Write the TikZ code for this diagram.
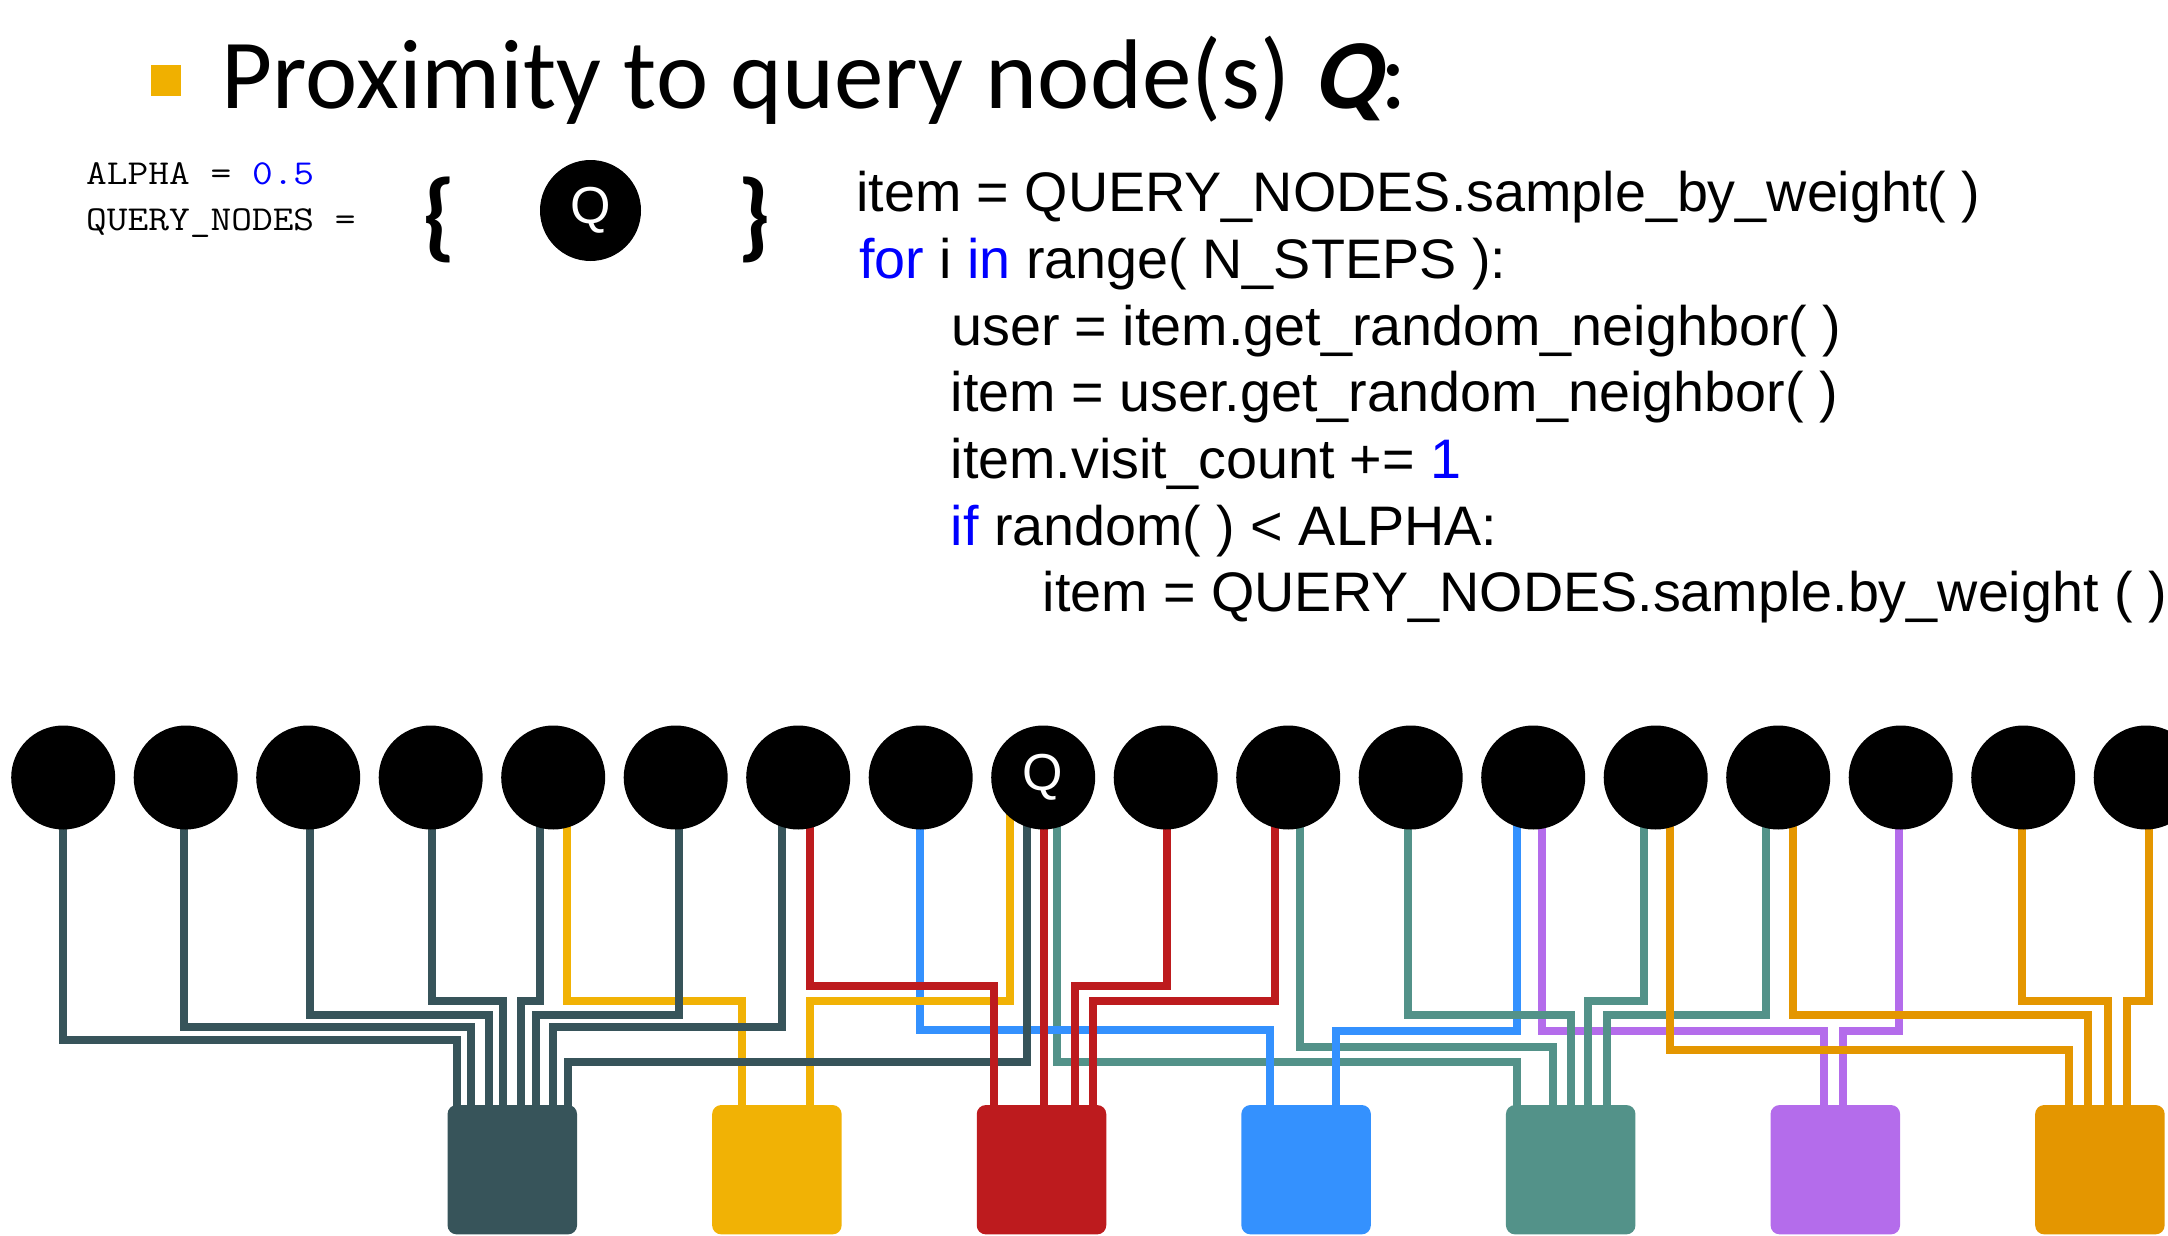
\documentclass[tikz,border=0pt]{standalone}
\usepackage{fontspec}
\setmainfont{Carlito}
\newfontfamily\codefont{Liberation Sans}
\newfontfamily\slantfont[FakeSlant=0.22]{Carlito}
\usetikzlibrary{calc,backgrounds}

\definecolor{cDark}{RGB}{55,84,90}
\definecolor{cYellow}{RGB}{241,178,5}
\definecolor{cRed}{RGB}{189,27,30}
\definecolor{cBlue}{RGB}{52,145,254}
\definecolor{cTeal}{RGB}{83,146,137}
\definecolor{cPurple}{RGB}{180,108,235}
\definecolor{cOrange}{RGB}{228,150,0}
\definecolor{cBullet}{RGB}{240,176,0}
\definecolor{kw}{RGB}{0,0,255}

% wire: colour, circle, x of drop from circle, y of horizontal run, x of drop into box, box
\newcommand\wire[6]{%
  \draw[wire,#1] let \p1=(#2.center), \p2=(#6.north) in
    (#3pt,\y1) |- (#5pt,-#4pt) -- (#5pt,{\y2-6pt});}
% widened typewriter text for the parameter lines
\newcommand\widemono[1]{\scalebox{1.15}[1]{#1}}

\tikzset{
  dot/.style={circle, fill=black, minimum size=104pt, inner sep=0pt, text=white,
    font=\codefont\fontsize{52pt}{52pt}\selectfont},
  itembox/.style={rounded corners=9pt, minimum width=129.5pt, minimum height=129.3pt, inner sep=0pt},
  wire/.style={line width=8pt, line join=miter, line cap=butt},
  code/.style={anchor=base west, inner sep=0pt, font=\codefont\fontsize{55.7pt}{66pt}\selectfont},
  mono/.style={anchor=base west, inner sep=0pt, font=\ttfamily\fontsize{35pt}{40pt}\selectfont},
  brace/.style={inner sep=0pt, font=\bfseries\fontsize{98pt}{98pt}\selectfont},
}

\begin{document}
\begin{tikzpicture}[x=1pt,y=-1pt]
\useasboundingbox (0,0) rectangle (2168,1236);
\clip (0,0) rectangle (2168,1236);

% heading
\node[fill=cBullet, minimum size=30.5pt, inner sep=0pt] (bullet) at (166,80.5) {};
\node[anchor=base west, inner sep=0pt, font=\fontsize{99pt}{118pt}\selectfont] (title)
  at (221.5,108.3) {Proximity to query node(s) {\slantfont\bfseries Q}:};

% parameters
\node[mono] (alpha) at (86,184) {\widemono{ALPHA = \textcolor{kw}{0.5}}};
\node[mono] (qnodes) at (86,230) {\widemono{QUERY\_NODES =}};
\node[brace] (lbrace) at (439.5,219.5) {\{};
\node[brace] (rbrace) at (754,219.5) {\}};
\node[dot, minimum size=101pt] (qset) at (590.5,210.5) {Q};

% random walk code
\node[code] (l1) at (856,211.7) {item = QUERY\_NODES.sample\_by\_weight( )};
\node[code] (l2) at (859,278.4) {\textcolor{kw}{for} i \textcolor{kw}{in} range( N\_STEPS ):};
\node[code] (l3) at (951,345) {user = item.get\_random\_neighbor( )};
\node[code] (l4) at (950.5,411.7) {item = user.get\_random\_neighbor( )};
\node[code] (l5) at (950.5,478.4) {item.visit\_count += \textcolor{kw}{1}};
\node[code] (l6) at (950.5,545) {\textcolor{kw}{if} random( ) < ALPHA:};
\node[code] (l7) at (1042.5,611.7) {item = QUERY\_NODES.sample.by\_weight ( )};

% item nodes
\foreach \i in {1,...,8,10,11,...,18}
  \node[dot] (c\i) at ({63.2+122.5*(\i-1)},777.5) {};
\node[dot] (c9) at (1043.2,777.5) {Q};

% user boxes
\node[itembox, fill=cDark]   (bDark)   at (512.3,1169.7) {};
\node[itembox, fill=cYellow] (bYellow) at (776.9,1169.7) {};
\node[itembox, fill=cRed]    (bRed)    at (1041.5,1169.7) {};
\node[itembox, fill=cBlue]   (bBlue)   at (1306.1,1169.7) {};
\node[itembox, fill=cTeal]   (bTeal)   at (1570.7,1169.7) {};
\node[itembox, fill=cPurple] (bPurple) at (1835.3,1169.7) {};
\node[itembox, fill=cOrange] (bOrange) at (2099.9,1169.7) {};

% edges between items and users
\begin{scope}[on background layer]
\wire{cTeal}{c9}{1057}{1062}{1517.3}{bTeal}
\wire{cTeal}{c11}{1299.7}{1046.7}{1553}{bTeal}
\wire{cBlue}{c8}{920}{1030.3}{1270}{bBlue}
\wire{cBlue}{c13}{1517.3}{1030.7}{1335.6}{bBlue}
\wire{cPurple}{c13}{1542}{1030.7}{1823.6}{bPurple}
\wire{cPurple}{c16}{1898.7}{1030.7}{1843.2}{bPurple}
\wire{cTeal}{c12}{1407.6}{1015}{1570.7}{bTeal}
\wire{cTeal}{c14}{1644}{1001}{1588}{bTeal}
\wire{cTeal}{c15}{1766}{1015}{1606.7}{bTeal}
\wire{cOrange}{c14}{1669.7}{1049.7}{2069}{bOrange}
\wire{cOrange}{c15}{1793}{1015}{2088}{bOrange}
\wire{cOrange}{c17}{2022}{1001}{2108}{bOrange}
\wire{cOrange}{c18}{2149}{1001}{2127}{bOrange}
\wire{cYellow}{c5}{566.7}{1001}{741.7}{bYellow}
\wire{cYellow}{c9}{1010.3}{1001}{810}{bYellow}
\wire{cDark}{c1}{63}{1039.7}{456.8}{bDark}
\wire{cDark}{c2}{183.5}{1027}{471}{bDark}
\wire{cDark}{c3}{310}{1015}{488.6}{bDark}
\wire{cDark}{c4}{432}{1001}{503.3}{bDark}
\wire{cDark}{c5}{540}{1001}{521}{bDark}
\wire{cDark}{c6}{679}{1015}{536}{bDark}
\wire{cDark}{c7}{782}{1027}{553}{bDark}
\wire{cDark}{c9}{1026.5}{1062}{567.7}{bDark}
\wire{cRed}{c7}{810}{986.3}{994}{bRed}
\wire{cRed}{c9}{1043.7}{1040}{1043.7}{bRed}
\wire{cRed}{c10}{1166.8}{986.3}{1075}{bRed}
\wire{cRed}{c11}{1275}{1001}{1093}{bRed}
\end{scope}
\end{tikzpicture}
\end{document}
